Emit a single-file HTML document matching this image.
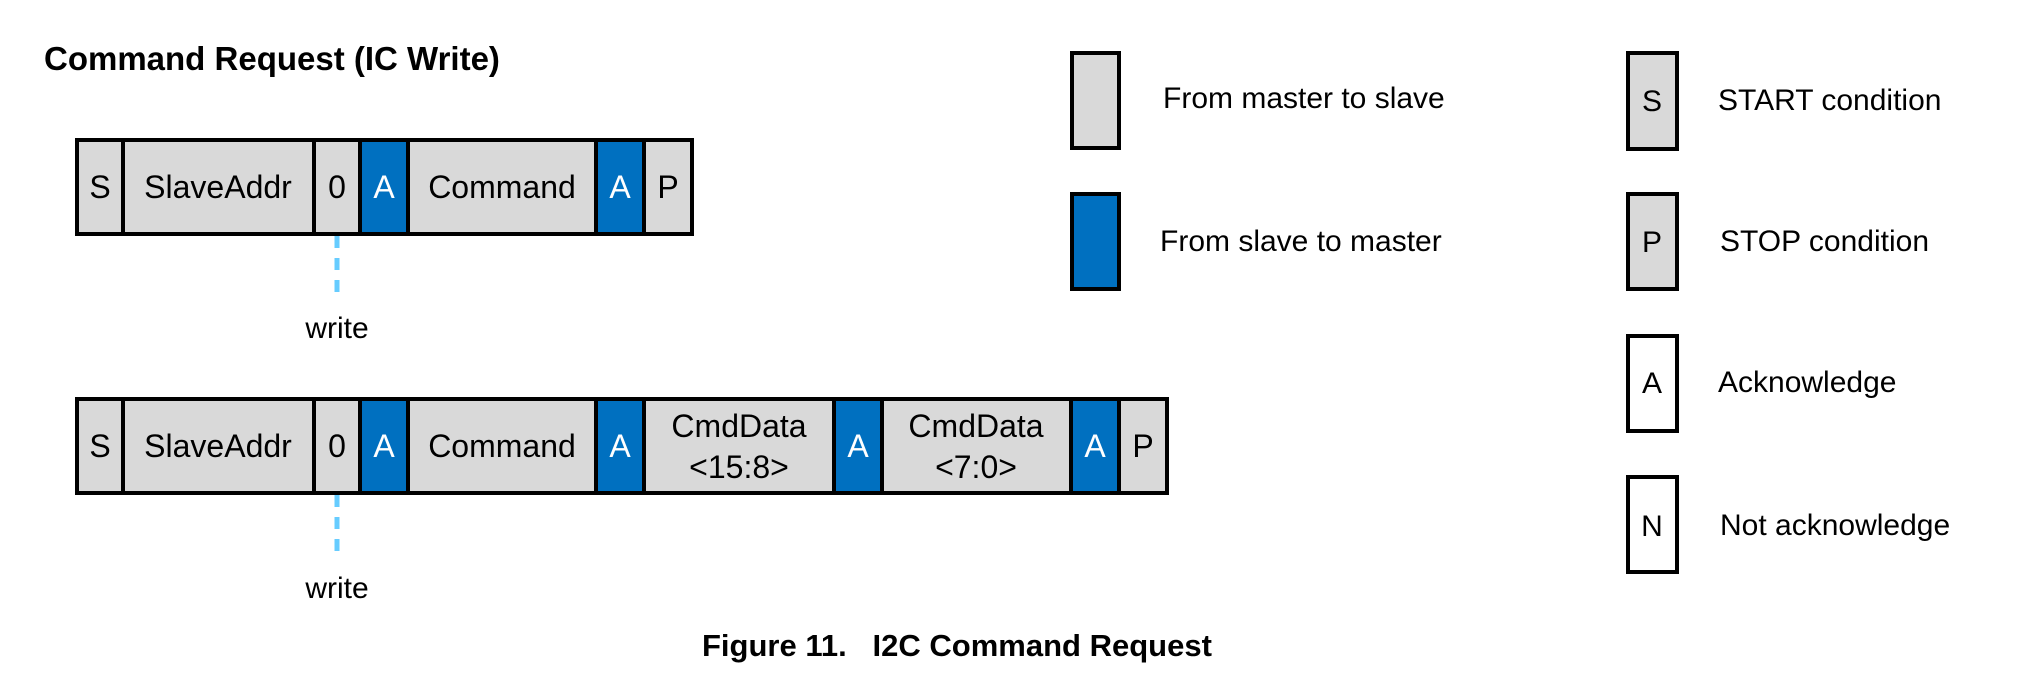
<!DOCTYPE html>
<html><head><meta charset="utf-8"><style>
html,body{margin:0;padding:0;background:#fff;}
svg{display:block;}
text{font-family:"Liberation Sans",Arial,sans-serif;}
</style></head><body>
<svg width="2018" height="690" viewBox="0 0 2018 690" xmlns="http://www.w3.org/2000/svg">
<text x="44" y="70" font-size="33" font-weight="bold">Command Request  (IC Write)</text>

<!-- Row 1 -->
<g stroke="#000" stroke-width="4">
<rect x="77" y="140" width="46" height="94" fill="#d9d9d9"/>
<rect x="123" y="140" width="191" height="94" fill="#d9d9d9"/>
<rect x="314" y="140" width="46" height="94" fill="#d9d9d9"/>
<rect x="360" y="140" width="48" height="94" fill="#0070c0"/>
<rect x="408" y="140" width="188" height="94" fill="#d9d9d9"/>
<rect x="596" y="140" width="48" height="94" fill="#0070c0"/>
<rect x="644" y="140" width="48" height="94" fill="#d9d9d9"/>
</g>
<g font-size="32" text-anchor="middle">
<text x="100" y="198">S</text>
<text x="218" y="198">SlaveAddr</text>
<text x="337" y="198">0</text>
<text x="384" y="198" fill="#fff">A</text>
<text x="502" y="198">Command</text>
<text x="620" y="198" fill="#fff">A</text>
<text x="668" y="198">P</text>
</g>
<line x1="337" y1="236" x2="337" y2="299" stroke="#66ccff" stroke-width="5" stroke-dasharray="12,10"/>
<text x="337" y="338" font-size="30" text-anchor="middle">write</text>

<!-- Row 2 -->
<g stroke="#000" stroke-width="4">
<rect x="77" y="399" width="46" height="94" fill="#d9d9d9"/>
<rect x="123" y="399" width="191" height="94" fill="#d9d9d9"/>
<rect x="314" y="399" width="46" height="94" fill="#d9d9d9"/>
<rect x="360" y="399" width="48" height="94" fill="#0070c0"/>
<rect x="408" y="399" width="188" height="94" fill="#d9d9d9"/>
<rect x="596" y="399" width="48" height="94" fill="#0070c0"/>
<rect x="644" y="399" width="190" height="94" fill="#d9d9d9"/>
<rect x="834" y="399" width="48" height="94" fill="#0070c0"/>
<rect x="882" y="399" width="189" height="94" fill="#d9d9d9"/>
<rect x="1071" y="399" width="48" height="94" fill="#0070c0"/>
<rect x="1119" y="399" width="48" height="94" fill="#d9d9d9"/>
</g>
<g font-size="32" text-anchor="middle">
<text x="100" y="457">S</text>
<text x="218" y="457">SlaveAddr</text>
<text x="337" y="457">0</text>
<text x="384" y="457" fill="#fff">A</text>
<text x="502" y="457">Command</text>
<text x="620" y="457" fill="#fff">A</text>
<text x="739" y="437">CmdData</text>
<text x="739" y="478">&lt;15:8&gt;</text>
<text x="858" y="457" fill="#fff">A</text>
<text x="976" y="437">CmdData</text>
<text x="976" y="478">&lt;7:0&gt;</text>
<text x="1095" y="457" fill="#fff">A</text>
<text x="1143" y="457">P</text>
</g>
<line x1="337" y1="495" x2="337" y2="557" stroke="#66ccff" stroke-width="5" stroke-dasharray="12,10"/>
<text x="337" y="598" font-size="30" text-anchor="middle">write</text>

<!-- Legend left -->
<g stroke="#000" stroke-width="4">
<rect x="1072" y="53" width="47" height="95" fill="#d9d9d9"/>
<rect x="1072" y="194" width="47" height="95" fill="#0070c0"/>
</g>
<g font-size="30">
<text x="1163" y="108">From master to slave</text>
<text x="1160" y="251">From slave to master</text>
</g>

<!-- Legend right -->
<g stroke="#000" stroke-width="4">
<rect x="1628" y="53" width="49" height="96" fill="#d9d9d9"/>
<rect x="1628" y="194" width="49" height="95" fill="#d9d9d9"/>
<rect x="1628" y="336" width="49" height="95" fill="#fff"/>
<rect x="1628" y="477" width="49" height="95" fill="#fff"/>
</g>
<g font-size="30" text-anchor="middle">
<text x="1652" y="111">S</text>
<text x="1652" y="252">P</text>
<text x="1652" y="393">A</text>
<text x="1652" y="536">N</text>
</g>
<g font-size="30">
<text x="1718" y="110">START condition</text>
<text x="1720" y="251">STOP condition</text>
<text x="1718" y="392">Acknowledge</text>
<text x="1720" y="535">Not acknowledge</text>
</g>

<text x="702" y="656" font-size="31" font-weight="bold" xml:space="preserve">Figure 11.   I2C Command Request</text>
</svg>
</body></html>
